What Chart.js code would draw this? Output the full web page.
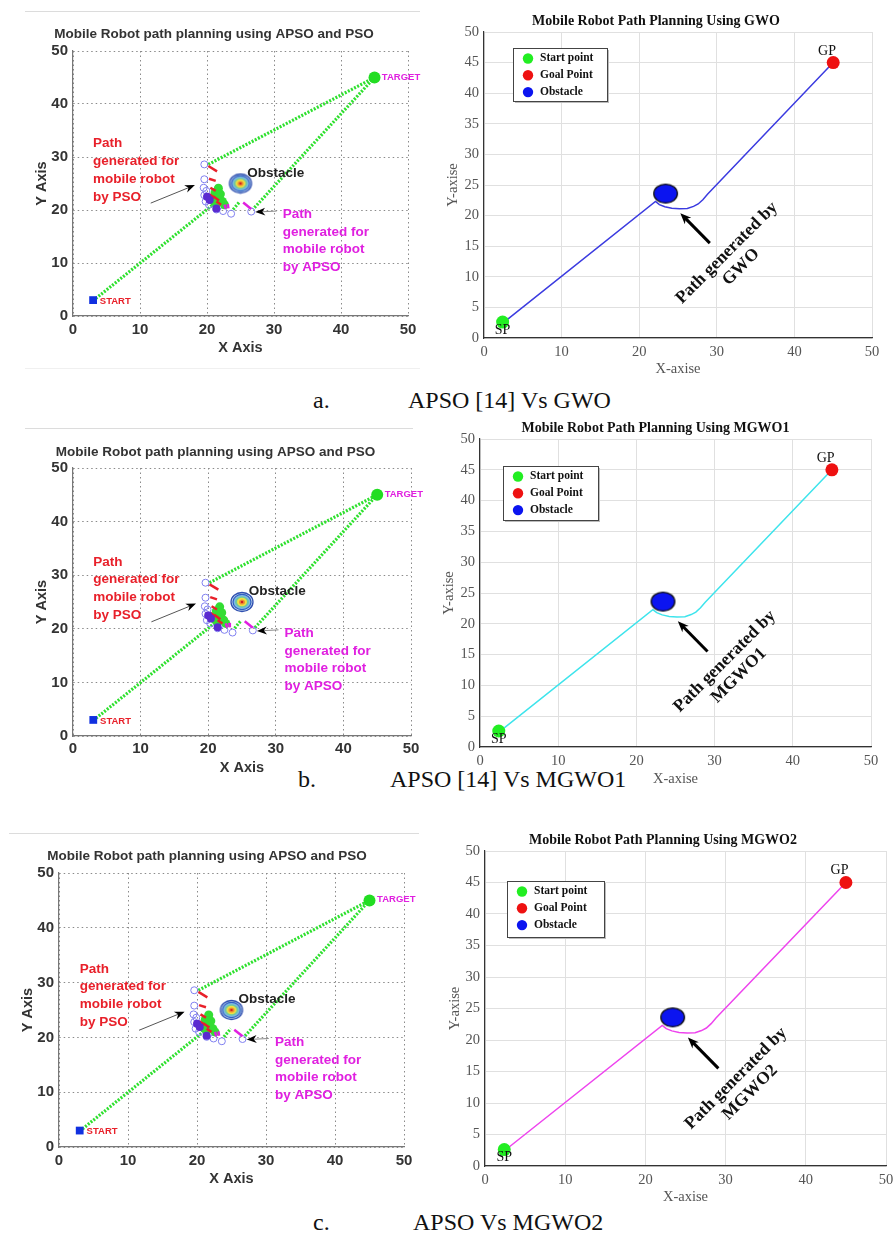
<!DOCTYPE html>
<html>
<head>
<meta charset="utf-8">
<script src="https://cdn.jsdelivr.net/npm/chart.js@4.4.0/dist/chart.umd.min.js"></script>
<style>
  body { margin: 0; width: 893px; height: 1239px; overflow: hidden; background: #fff; position: relative; }
  canvas { position: absolute; }
  .cap { position: absolute; font-family: 'Liberation Serif', 'Times New Roman', serif; font-size: 24px; line-height: 24px; color: #111; white-space: nowrap; }
  .rule { position: absolute; height: 1px; background: #dcdcdc; }
</style>
</head>
<body>
<div class="rule" style="left:25px;top:11px;width:395px"></div>
<div class="rule" style="left:25px;top:368px;width:395px;background:#f0f0f0"></div>
<div class="rule" style="left:25px;top:428px;width:388px"></div>
<div class="rule" style="left:9px;top:833px;width:410px"></div>

<div class="cap" style="left:313px;top:388px">a.</div>
<div class="cap" style="left:408px;top:388px">APSO [14] Vs GWO</div>
<div class="cap" style="left:298px;top:767px">b.</div>
<div class="cap" style="left:390px;top:767px">APSO [14] Vs MGWO1</div>
<div class="cap" style="left:313px;top:1210px">c.</div>
<div class="cap" style="left:413px;top:1210px">APSO Vs MGWO2</div>

<script>
Chart.defaults.animation = false;
Chart.defaults.devicePixelRatio = 1;

// ---- left panels: APSO and PSO ----
const leftXTicks = [0, 10, 20, 30, 40, 50];
const leftYTicks = [0, 10, 20, 30, 40, 50];
const startPoint = [3, 3];
const targetPoint = [45, 45];
const obstacleLeft = [25, 25];
const startLeg = [[3.4, 3.3], [20.8, 20.9]];
const psoLeg = [[20.2, 28.6], [45, 45]];
const apsoLeg = [[45, 45], [26.9, 20.2]];
const apsoKink = [[23.9, 20.1], [24.9, 21.6]];
const apsoMagenta = [[[25.4, 21.4], [26.6, 20.2]], [[22.6, 21.0], [22.8, 20.2]], [[23.1, 21.1], [23.2, 20.3]]];
const psoRedDashes = [
  [[20.2, 28.3], [21.5, 27.3]], [[20.3, 25.9], [21.3, 25.5]], [[20.5, 24.2], [21.3, 23.6]],
  [[20.3, 23.0], [21.1, 22.3]], [[20.9, 22.6], [21.8, 21.8]], [[21.4, 21.6], [22.1, 21.0]]
];
const psoParticles = [[19.6, 28.6], [19.6, 25.8], [19.5, 24.2], [19.6, 22.8], [19.8, 21.6], [20.3, 21.0],
  [21.4, 20.1], [22.4, 19.8], [23.6, 19.3], [26.6, 19.7], [19.9, 23.6]];
const psoGreen = [[21.2, 23.3], [21.7, 22.6], [21.9, 22.0], [21.0, 21.7], [22.3, 21.6], [21.7, 24.1],
  [22.0, 23.0], [21.4, 21.2], [22.6, 21.0]];
const psoBest = [[20.0, 22.5], [20.4, 21.9], [21.4, 20.3]];

// ---- right panels: GWO / MGWO1 / MGWO2 ----
const rightXTicks = [0, 10, 20, 30, 40, 50];
const rightYTicks = [0, 5, 10, 15, 20, 25, 30, 35, 40, 45, 50];
const spPoint = [2.4, 2.6];
const gpPoint = [45, 45];
const obstacleRight = [23.4, 23.6];
const pathX = [2.5, 22.1, 22.6, 23.3, 24.2, 25.2, 26.2, 27.0, 27.6, 28.2, 28.8, 45];
const pathY = [2.5, 22.3, 21.8, 21.45, 21.2, 21.1, 21.15, 21.5, 21.9, 22.6, 23.5, 45];

const pts = a => a.map(([x, y]) => ({ x, y }));

function ellipseImg(w, h, layers) {
  const c = document.createElement('canvas');
  c.width = w; c.height = h;
  const g = c.getContext('2d');
  layers.forEach(([rx, ry, fill, stroke]) => {
    g.beginPath();
    g.ellipse(w / 2, h / 2, rx, ry, 0, 0, Math.PI * 2);
    if (fill) { g.fillStyle = fill; g.fill(); }
    if (stroke) { g.strokeStyle = stroke; g.lineWidth = 1.3; g.stroke(); }
  });
  return c;
}
const obsLeftImg = ellipseImg(26, 22, [[11, 9.5, '#c8dcf0', '#3050b0'], [9, 7.6, '#80b8e8', '#3060c0'],
  [7, 5.8, '#70c8a0'], [5, 4.2, '#f0e040'], [3, 2.6, '#f09030'], [1.3, 1.2, '#d02020']]);
const obsRightImg = ellipseImg(27, 22, [[11.8, 9.4, '#0b14f0', '#111']]);

function arrow(ctx, x1, y1, x2, y2, lw, color, headLen, headW) {
  const a = Math.atan2(y2 - y1, x2 - x1);
  ctx.save();
  ctx.strokeStyle = color; ctx.fillStyle = '#000'; ctx.lineWidth = lw;
  ctx.beginPath();
  ctx.moveTo(x1, y1);
  ctx.lineTo(x2 - Math.cos(a) * headLen * 0.6, y2 - Math.sin(a) * headLen * 0.6);
  ctx.stroke();
  ctx.translate(x2, y2); ctx.rotate(a);
  ctx.beginPath();
  ctx.moveTo(0, 0); ctx.lineTo(-headLen, -headW / 2); ctx.lineTo(-headLen * 0.7, 0); ctx.lineTo(-headLen, headW / 2);
  ctx.closePath(); ctx.fill();
  ctx.restore();
}

function frame(g, fs) {
  const b = g.box, a = g.area;
  return {
    right: b.x + b.w - a.r,
    yW: a.l - b.x,
    xH: b.y + b.h - a.b,
    titlePad: { top: g.titleY - fs.title / 2 - b.y, bottom: a.t - g.titleY - fs.title / 2 },
    xTickPad: g.xTickY - a.b - fs.tick / 2,
    xTitlePad: b.y + b.h - g.xTitleY - fs.axis / 2,
    yTitlePad: g.yTitleX - b.x - fs.axis / 2
  };
}

function axis(isX, ticks, f, st) {
  return {
    type: 'linear', min: 0, max: 50,
    afterBuildTicks: s => { s.ticks = ticks.map(v => ({ value: v })); },
    afterFit: s => { if (isX) s.height = f.xH; else s.width = f.yW; },
    grid: { color: st.grid, lineWidth: 1, drawTicks: false },
    border: { color: st.axisColor, width: 1.2, dash: st.dash },
    ticks: { padding: isX ? f.xTickPad : 5, color: st.tickColor, maxRotation: 0, autoSkip: false,
      font: { family: st.family, size: st.fs.tick, weight: st.weight, lineHeight: 1 } },
    title: { display: true, text: isX ? st.xTitle : st.yTitle, color: st.labelColor,
      font: { family: st.family, size: st.fs.axis, weight: st.weight, lineHeight: 1 },
      padding: isX ? { top: 0, bottom: f.xTitlePad } : { top: f.yTitlePad, bottom: 0 } }
  };
}

function makeCanvas(b) {
  const c = document.createElement('canvas');
  c.width = b.w; c.height = b.h;
  c.style.left = b.x + 'px'; c.style.top = b.y + 'px';
  c.style.width = b.w + 'px'; c.style.height = b.h + 'px';
  document.body.appendChild(c);
  return c;
}

const leftStyle = {
  family: '"Liberation Sans", Arial, sans-serif', weight: 'bold',
  fs: { title: 13.5, tick: 15, axis: 14.5 },
  grid: '#8a8a8a', dash: [1.5, 3], axisColor: '#777', tickColor: '#333', labelColor: '#333',
  xTitle: 'X Axis', yTitle: 'Y Axis'
};

const leftNotes = {
  id: 'leftNotes',
  afterDatasetsDraw(chart) {
    const { ctx, scales: { x, y } } = chart;
    const px = v => x.getPixelForValue(v), py = v => y.getPixelForValue(v);
    ctx.save();
    ctx.textBaseline = 'middle'; ctx.textAlign = 'left';
    ctx.font = 'bold 13.5px "Liberation Sans", Arial, sans-serif';
    ctx.fillStyle = '#e8202a';
    ['Path', 'generated for', 'mobile robot', 'by PSO'].forEach((t, i) => ctx.fillText(t, px(3.0), py(32.5) + i * 17.7));
    ctx.fillStyle = '#e020e0';
    ['Path', 'generated for', 'mobile robot', 'by APSO'].forEach((t, i) => ctx.fillText(t, px(31.3), py(19.1) + i * 17.5));
    ctx.fillStyle = '#222';
    ctx.fillText('Obstacle', px(26.0), py(27.0));
    ctx.font = 'bold 9.5px "Liberation Sans", Arial, sans-serif';
    ctx.fillStyle = '#e8202a';
    ctx.fillText('START', px(4.0), py(2.8));
    ctx.fillStyle = '#e020e0';
    ctx.fillText('TARGET', px(46.1), py(45.1));
    ctx.restore();
    arrow(ctx, px(11.6), py(21.3), px(18.2), py(24.7), 1, '#555', 10, 8);
    arrow(ctx, px(30.4), py(19.8), px(27.2), py(19.6), 1, '#888', 10, 8);
  }
};

function leftPanel(g) {
  const f = frame(g, leftStyle.fs);
  const green = d => ({ data: pts(d), showLine: true, borderColor: '#2ee02e', borderWidth: 3.2, borderDash: [2, 1.5], pointRadius: 0 });
  const seg = (d, c) => ({ data: pts(d), showLine: true, borderColor: c, borderWidth: 2.5, pointRadius: 0 });
  const datasets = [
    ...[startLeg, psoLeg, apsoLeg, apsoKink].map(green),
    { data: pts(psoParticles), pointRadius: 3.5, backgroundColor: 'rgba(0,0,0,0)', borderColor: '#8080f0', borderWidth: 1 },
    { data: pts(psoGreen), pointRadius: 4.5, backgroundColor: '#33dd33', borderWidth: 0 },
    ...psoRedDashes.map(d => seg(d, '#e8202a')),
    ...apsoMagenta.map(d => seg(d, '#e020e0')),
    { data: pts(psoBest), pointRadius: 4, backgroundColor: '#5a2ad0', borderWidth: 0 },
    { data: pts([obstacleLeft]), pointStyle: obsLeftImg, pointRadius: 10 },
    { data: pts([startPoint]), pointStyle: 'rect', pointRadius: 5.5, backgroundColor: '#1030e0', borderWidth: 0 },
    { data: pts([targetPoint]), pointRadius: 6, backgroundColor: '#22dd22', borderWidth: 0 }
  ].reverse();
  new Chart(makeCanvas(g.box), {
    type: 'scatter',
    data: { datasets },
    options: {
      responsive: false, events: [],
      layout: { padding: { left: 0, top: 0, bottom: 0, right: f.right } },
      scales: { x: axis(true, leftXTicks, f, leftStyle), y: axis(false, leftYTicks, f, leftStyle) },
      plugins: {
        legend: { display: false }, tooltip: { enabled: false },
        title: { display: true, text: 'Mobile Robot path planning using APSO and PSO', color: '#333',
          font: { family: leftStyle.family, size: leftStyle.fs.title, weight: 'bold', lineHeight: 1 }, padding: f.titlePad }
      }
    },
    plugins: [leftNotes]
  });
}

const rightStyle = {
  family: '"Liberation Serif", "Times New Roman", serif', weight: 'normal',
  fs: { title: 14, tick: 14.5, axis: 14.5 },
  grid: '#e0e0e0', dash: [], axisColor: '#333', tickColor: '#555', labelColor: '#555',
  xTitle: 'X-axise', yTitle: 'Y-axise'
};

function rightNotes(method, lg) {
  return {
    id: 'rightNotes',
    afterDatasetsDraw(chart) {
      const { ctx, chartArea: ca, scales: { x, y } } = chart;
      const px = v => x.getPixelForValue(v), py = v => y.getPixelForValue(v);
      const serif = '"Liberation Serif", "Times New Roman", serif';
      ctx.save();
      ctx.fillStyle = '#111'; ctx.textAlign = 'center'; ctx.textBaseline = 'middle';
      ctx.font = '14px ' + serif;
      ctx.fillText('SP', px(2.4), py(1.3));
      ctx.fillText('GP', px(44.2), py(46.9));
      ctx.translate(px(31.3), py(13.9));
      ctx.rotate(-45 * Math.PI / 180);
      ctx.font = 'bold 17.5px ' + serif;
      ctx.fillText('Path generated by', 0, 0);
      ctx.fillText(method, 0, 20);
      ctx.restore();
      arrow(ctx, px(29.1), py(15.5), px(25.3), py(20.4), 3, '#000', 11, 9);
      // legend box
      const bx = ca.left + lg[0], by = ca.top + lg[1], bw = lg[2], bh = lg[3];
      ctx.save();
      ctx.fillStyle = '#bbb'; ctx.fillRect(bx + 2, by + 2, bw, bh);
      ctx.fillStyle = '#fff'; ctx.fillRect(bx, by, bw, bh);
      ctx.strokeStyle = '#444'; ctx.lineWidth = 1; ctx.strokeRect(bx + 0.5, by + 0.5, bw, bh);
      ctx.font = 'bold 11.5px ' + serif; ctx.textAlign = 'left'; ctx.textBaseline = 'middle';
      chart.data.datasets.filter(d => d.label).reverse().forEach((d, i) => {
        const cy = by + 10.5 + i * 16.8;
        ctx.fillStyle = d.legendColor;
        ctx.beginPath(); ctx.arc(bx + 15, cy, 5.2, 0, Math.PI * 2); ctx.fill();
        ctx.fillStyle = '#111';
        ctx.fillText(d.label, bx + 27, cy);
      });
      ctx.restore();
    }
  };
}

function rightPanel(g, method, color, lg) {
  const f = frame(g, rightStyle.fs);
  const datasets = [
    { data: pathX.map((x, i) => ({ x, y: pathY[i] })), showLine: true, borderColor: color, borderWidth: 1.5, pointRadius: 0 },
    { label: 'Start point', legendColor: '#22ee22', data: pts([spPoint]), pointRadius: 6.5, backgroundColor: '#22ee22', borderWidth: 0 },
    { label: 'Goal Point', legendColor: '#ee1111', data: pts([gpPoint]), pointRadius: 6.5, backgroundColor: '#ee1111', borderWidth: 0 },
    { label: 'Obstacle', legendColor: '#0b14f0', data: pts([obstacleRight]), pointStyle: obsRightImg, pointRadius: 10 }
  ].reverse();
  new Chart(makeCanvas(g.box), {
    type: 'scatter',
    data: { datasets },
    options: {
      responsive: false, events: [],
      layout: { padding: { left: 0, top: 0, bottom: 0, right: f.right } },
      scales: { x: axis(true, rightXTicks, f, rightStyle), y: axis(false, rightYTicks, f, rightStyle) },
      plugins: {
        legend: { display: false }, tooltip: { enabled: false },
        title: { display: true, text: 'Mobile Robot Path Planning Using ' + method, color: '#111',
          font: { family: rightStyle.family, size: rightStyle.fs.title, weight: 'bold', lineHeight: 1 }, padding: f.titlePad }
      }
    },
    plugins: [rightNotes(method, lg)]
  });
}

leftPanel({ box: { x: 20, y: 14, w: 420, h: 350 }, area: { l: 73, t: 51, r: 408, b: 316 }, titleY: 34, xTickY: 330, xTitleY: 348, yTitleX: 42 });
leftPanel({ box: { x: 20, y: 432, w: 420, h: 352 }, area: { l: 73, t: 468, r: 411, b: 736 }, titleY: 452, xTickY: 749, xTitleY: 768, yTitleX: 42 });
leftPanel({ box: { x: 10, y: 836, w: 430, h: 360 }, area: { l: 59, t: 873, r: 404, b: 1147 }, titleY: 856, xTickY: 1161, xTitleY: 1179, yTitleX: 28 });

rightPanel({ box: { x: 440, y: 8, w: 460, h: 372 }, area: { l: 484, t: 32, r: 872, b: 338 }, titleY: 21, xTickY: 352, xTitleY: 369, yTitleX: 453 },
  'GWO', '#3b3be0', [29, 16, 94, 53]);
rightPanel({ box: { x: 440, y: 418, w: 460, h: 372 }, area: { l: 480, t: 439, r: 871, b: 747 }, titleY: 428, xTickY: 761, xTitleY: 779, yTitleX: 449 },
  'MGWO1', '#3ee4ec', [23, 27, 95, 54]);
rightPanel({ box: { x: 440, y: 830, w: 470, h: 375 }, area: { l: 485, t: 851, r: 886, b: 1166 }, titleY: 840, xTickY: 1180, xTitleY: 1197, yTitleX: 455 },
  'MGWO2', '#ee44ee', [22, 30, 97, 56]);
</script>
</body>
</html>
